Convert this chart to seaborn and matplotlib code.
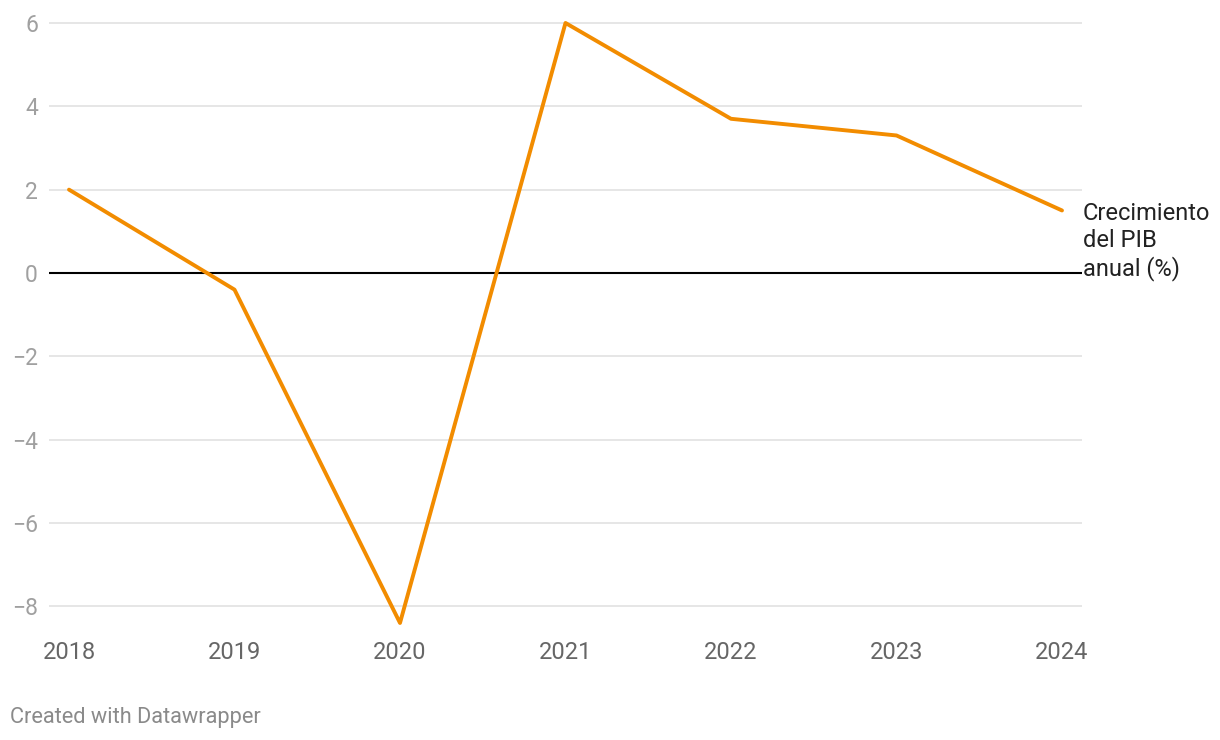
import matplotlib
matplotlib.use("Agg")
import matplotlib.pyplot as plt
import seaborn as sns
import pandas as pd

# annual GDP growth (%)
years = [2018, 2019, 2020, 2021, 2022, 2023, 2024]
growth = [2.0, -0.4, -8.4, 6.0, 3.7, 3.3, 1.5]
y_ticks = [-8, -6, -4, -2, 0, 2, 4, 6]
series_label = "Crecimiento\ndel PIB\nanual (%)"

df = pd.DataFrame({"year": years, "growth": growth})

sns.set_style("white")
plt.rcParams["font.family"] = ["Roboto", "DejaVu Sans"]

fig = plt.figure(figsize=(12.2, 7.4), dpi=100)
ax = fig.add_axes([49 / 1220, 1 - 631.3 / 740, (1082 - 49) / 1220, (631.3 - 18.8) / 740])

# grid lines
for t in y_ticks:
    if t == 0:
        ax.axhline(0, color="#000000", lw=1.5, zorder=2)
    else:
        ax.axhline(t, color="#e2e2e2", lw=1.2, zorder=1)

sns.lineplot(data=df, x="year", y="growth", color="#f28c00", lw=2.8, ax=ax, zorder=3)

ax.set_xlim(2018 - 20 / 165.5, 2024 + 20 / 165.5)
ax.set_ylim(-8.6, 6.1)
ax.set_yticks(y_ticks)
ax.set_xticks(years)
ax.set_xticklabels([str(y) for y in years])
ax.set_xlabel("")
ax.set_ylabel("")
for s in ax.spines.values():
    s.set_visible(False)
ax.tick_params(axis="y", length=0, pad=8, labelsize=16.5, labelcolor="#a0a0a0")
ax.tick_params(axis="x", length=0, pad=7, labelsize=17, labelcolor="#666666")

# series label next to last point
ax.annotate(series_label, xy=(years[-1], growth[-1]), xytext=(15, 6),
            textcoords="offset points", ha="left", va="top",
            fontsize=17, color="#222222", linespacing=1.2,
            annotation_clip=False)

fig.text(10 / 1220, 1 - 717 / 740, "Created with Datawrapper", fontsize=15.7,
         color="#8a8a8a", ha="left", va="center")

fig.savefig("out.png", dpi=100)
